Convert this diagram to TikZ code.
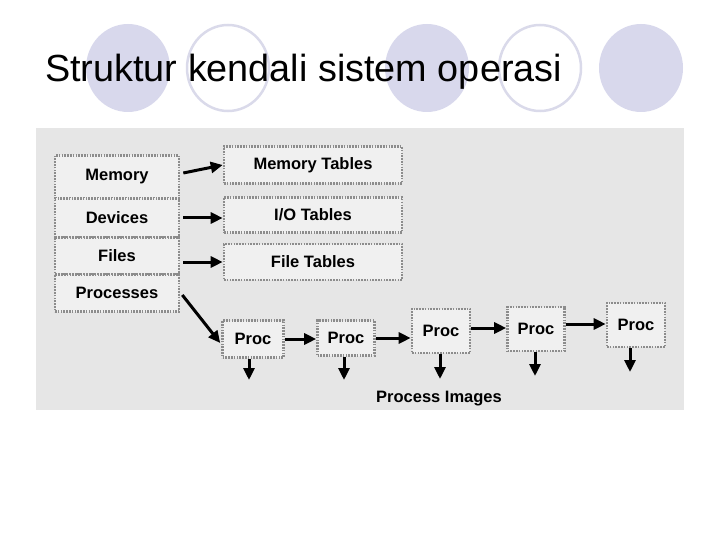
\documentclass[tikz,border=0pt]{standalone}
\usepackage{fontspec}
\setmainfont{Liberation Sans}
\usetikzlibrary{arrows.meta}
\definecolor{lav}{RGB}{216,216,236}
\definecolor{lavline}{RGB}{218,218,234}
\definecolor{scan}{RGB}{230,230,230}
\definecolor{boxfill}{RGB}{240,240,240}
\tikzset{
  dotbox/.style={draw=black!45, dash pattern=on 1.6pt off 1.2pt, line width=2.6pt, fill=boxfill,
    font=\fontsize{16.5}{18}\selectfont\bfseries, inner sep=0pt},
  row/.style={dotbox, minimum width=124pt},
  tbl/.style={dotbox, minimum width=178pt},
  procbox/.style={dotbox},
  arr/.style={line width=3pt, -{Triangle[length=12pt,width=11pt]}},
  lbl/.style={font=\fontsize{16.5}{18}\selectfont\bfseries}
}
\begin{document}
\begin{tikzpicture}[x=1pt,y=-1pt]
\useasboundingbox (0,0) rectangle (720,540);
% decorative circles
\fill[lav] (128,68) ellipse [x radius=42, y radius=44];
\draw[lavline, line width=2.5pt] (228,68) ellipse [x radius=41, y radius=43];
\fill[lav] (427,68) ellipse [x radius=42, y radius=44];
\draw[lavline, line width=2.5pt] (540,68) ellipse [x radius=41, y radius=43];
\fill[lav] (641,68) ellipse [x radius=42, y radius=44];
% title
\node[anchor=base west, inner sep=0pt, font=\fontsize{37.8}{40}\selectfont] (title) at (45,82) {Struktur kendali sistem operasi};
% scanned area
\fill[scan] (36,128) rectangle (684,410);
% left stack
\node[row, minimum height=43pt] (mem) at (117,177) {Memory};
\node[row, minimum height=39pt] (dev) at (117,218) {Devices};
\node[row, minimum height=37pt] (fil) at (117,256) {Files};
\node[row, minimum height=37pt] (prs) at (117,293) {Processes};
% tables
\node[tbl, minimum height=37pt] (memtab) at (313,165) {Memory Tables};
\node[tbl, minimum height=35pt] (iotab) at (313,215) {I/O Tables};
\node[tbl, minimum height=36pt] (filtab) at (313,262) {File Tables};
% procs
\node[procbox, minimum width=61pt, minimum height=37pt] (p1) at (253,339) {Proc};
\node[procbox, minimum width=57pt, minimum height=35pt] (p2) at (346,338) {Proc};
\node[procbox, minimum width=58pt, minimum height=44pt] (p3) at (441,331) {Proc};
\node[procbox, minimum width=57pt, minimum height=44pt] (p4) at (536,329) {Proc};
\node[procbox, minimum width=58pt, minimum height=44pt] (p5) at (636,325) {Proc};
% arrows
\draw[arr] ([xshift=3pt,yshift=4pt]mem.east) -- (memtab.west);
\draw[arr] ([xshift=3pt]dev.east) -- (dev.east -| iotab.west);
\draw[arr] ([xshift=3pt]fil.east |- filtab.west) -- (filtab.west);
\draw[arr] ([xshift=2pt,yshift=-2pt]prs.east) -- ([xshift=-1pt,yshift=-4pt]p1.west);
\draw[arr] (p1.east) -- (p2.west |- p1.east);
\draw[arr] (p2.east) -- (p3.west |- p2.east);
\draw[arr] ([yshift=3pt]p3.east) -- ([yshift=3pt]p4.west |- p3.east);
\draw[arr] ([yshift=5pt]p4.east) -- ([yshift=5pt]p5.west |- p4.east);
\coordinate (d1) at (249,380);
\coordinate (d2) at (344,380);
\coordinate (d3) at (440,379);
\coordinate (d4) at (535,376);
\coordinate (d5) at (630,372);
\draw[arr] (d1 |- p1.south) -- (d1);
\draw[arr] (d2 |- p2.south) -- (d2);
\draw[arr] (d3 |- p3.south) -- (d3);
\draw[arr] (d4 |- p4.south) -- (d4);
\draw[arr] (d5 |- p5.south) -- (d5);
\node[lbl, inner sep=0pt] (pimg) at (439,399) {Process Images};
\end{tikzpicture}
\end{document}
